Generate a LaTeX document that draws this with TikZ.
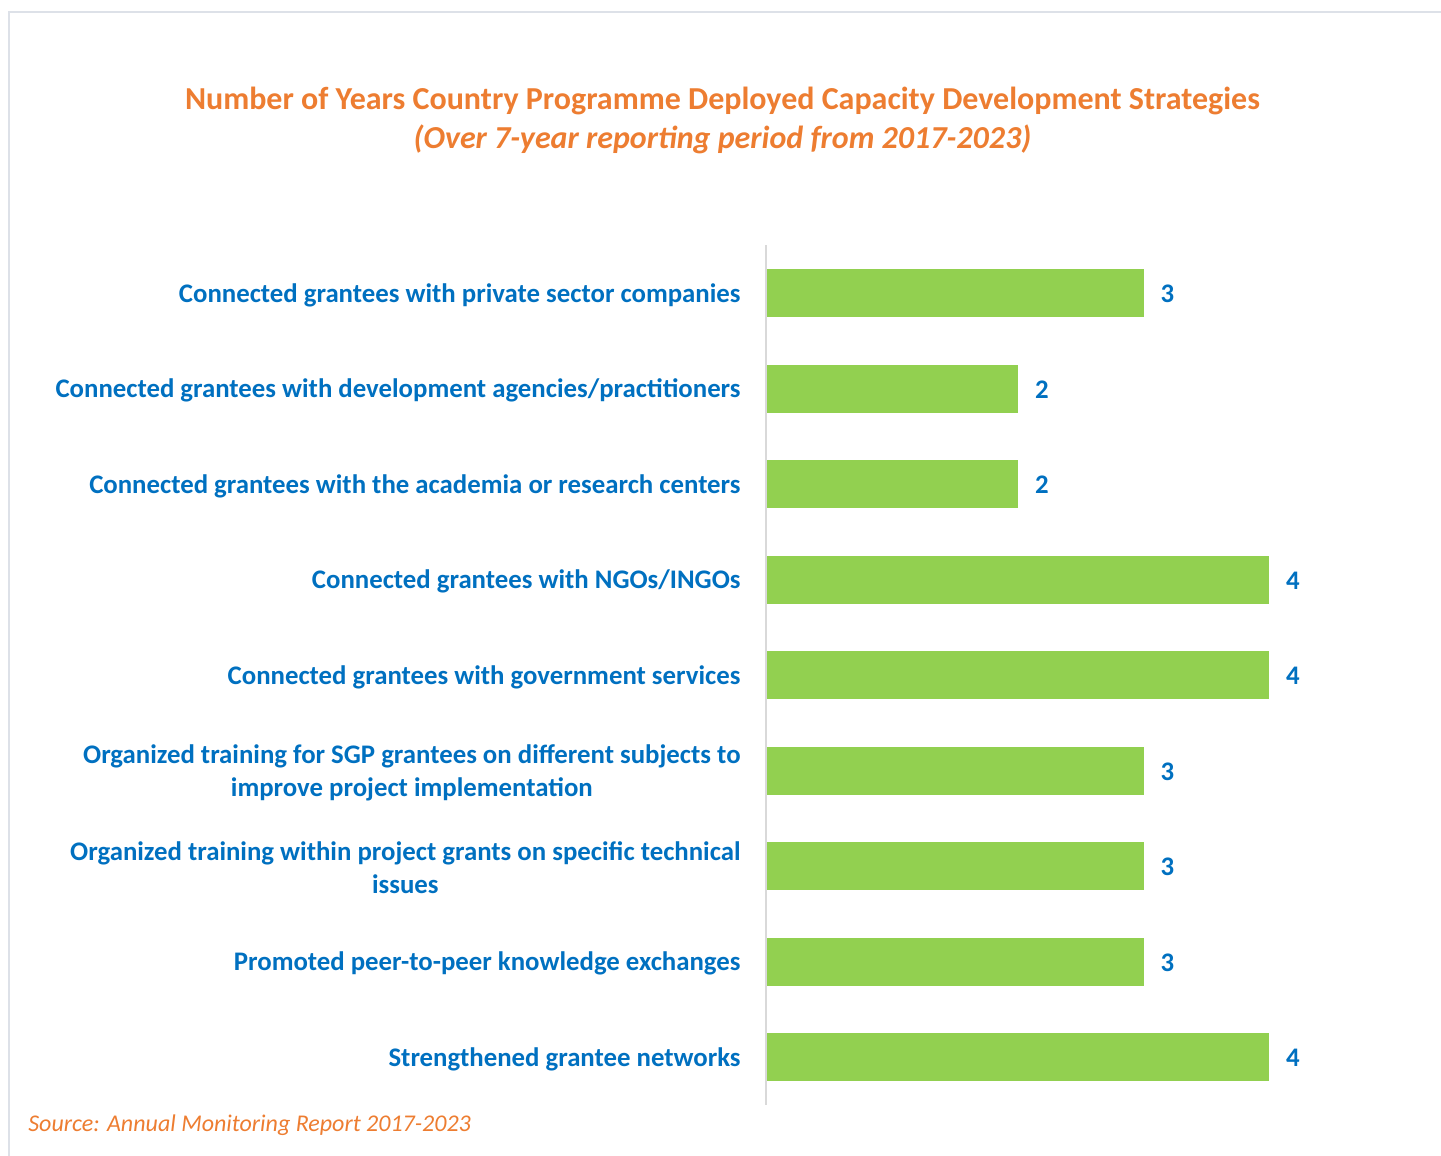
\documentclass[tikz,border=0pt]{standalone}
\usepackage{fontspec}
\setmainfont{Carlito}
\usetikzlibrary{positioning}

\definecolor{titleorange}{HTML}{ED7D31}
\definecolor{labelblue}{HTML}{0070C0}
\definecolor{bargreen}{HTML}{92D050}
\definecolor{framegray}{HTML}{DDE1E8}
\definecolor{axisgray}{HTML}{D9D9D9}

\begin{document}
\begin{tikzpicture}[
    x=0.5pt, y=-0.5pt,
    title_style/.style={font=\bfseries\fontsize{16}{19}\selectfont, text=titleorange},
    subtitle_style/.style={font=\bfseries\itshape\fontsize{16}{19}\selectfont, text=titleorange},
    label_style/.style={anchor=east, align=center, inner sep=0pt, text=labelblue,
        font=\bfseries\fontsize{13.4}{16.5}\selectfont},
    bar_style/.style={fill=bargreen, anchor=west, inner sep=0pt, minimum height=24pt},
    value_style/.style={font=\bfseries\fontsize{13.4}{16}\selectfont, text=labelblue, inner sep=0pt},
    source_style/.style={font=\itshape\fontsize{12}{14}\selectfont, text=titleorange, anchor=west, inner sep=0pt}
]

    % --- canvas and frame ---
    \useasboundingbox (0,0) rectangle (1441,1156);
    \draw[framegray, line width=1pt] (9,1156) -- (9,12) -- (1441,12);

    % --- title ---
    \node[title_style] (title) at (722.5,101)
        {Number of Years Country Programme Deployed Capacity Development Strategies};
    \node[subtitle_style] (subtitle) at (722.5,139)
        {(Over 7-year reporting period from 2017-2023)};

    % --- category axis ---
    \coordinate (axis_top) at (766,245);
    \coordinate (axis_bottom) at (766,1105);
    \draw[axisgray, line width=1pt] (axis_top) -- (axis_bottom);

    % --- bars: value / label ---
    \foreach \val/\txt [count=\i, evaluate=\i as \y using 293+(\i-1)*95.5] in {
        3/{Connected grantees with private sector companies},
        2/{Connected grantees with development agencies/practitioners},
        2/{Connected grantees with the academia or research centers},
        4/{Connected grantees with NGOs/INGOs},
        4/{Connected grantees with government services},
        3/{Organized training for SGP grantees on different subjects to\\improve project implementation},
        3/{Organized training within project grants on specific technical\\issues},
        3/{Promoted peer-to-peer knowledge exchanges},
        4/{Strengthened grantee networks}}
    {
        \node[label_style] (lbl\i) at (741,\y+2) {\txt};
        \node[bar_style, minimum width=\val*62.75pt] (bar\i) at (767,\y) {};
        \node[value_style, right=8pt of bar\i, yshift=-0.5pt] (val\i) {\val};
    }

    % --- source note ---
    \node[source_style] (source) at (28,1125) {Source: Annual Monitoring Report 2017-2023};

\end{tikzpicture}
\end{document}
